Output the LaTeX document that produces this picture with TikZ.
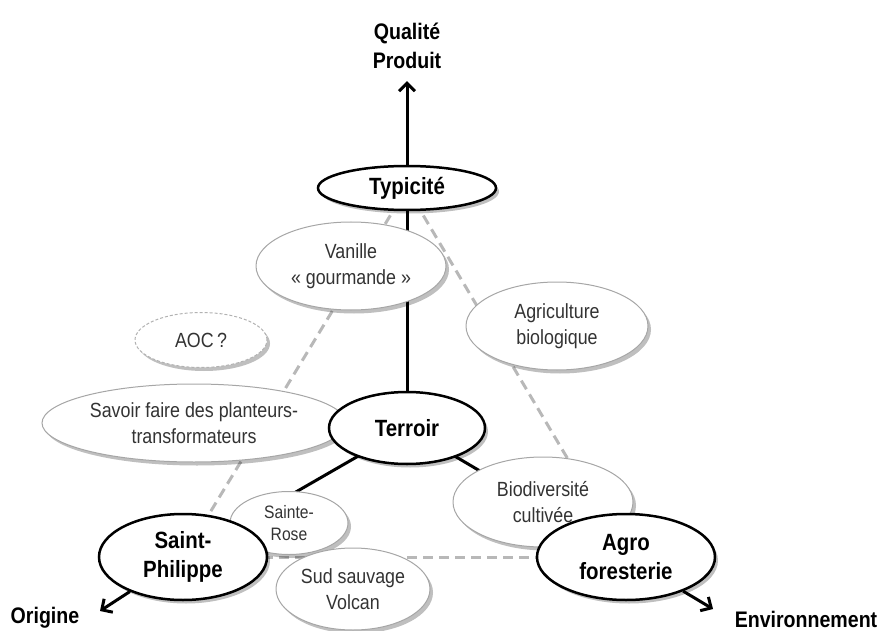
\documentclass[tikz,border=0pt]{standalone}
\usepackage{fontspec}
\setmainfont{Liberation Sans}[FakeStretch=0.87]
\usetikzlibrary{shapes.geometric,shadows,arrows.meta,backgrounds}
\begin{document}
\begin{tikzpicture}[x=1pt,y=-1pt,
  softshadow/.style={drop shadow={shadow xshift=3pt,shadow yshift=-3.5pt,opacity=0.25,fill=black}},
  keynode/.style={ellipse,draw=black,line width=2.5pt,fill=white,softshadow,inner sep=0pt,align=center,
    font=\fontsize{23.5}{29}\selectfont\bfseries},
  itemnode/.style={ellipse,draw=black!35,line width=1pt,fill=white,softshadow,inner sep=0pt,align=center,
    text=black!80,font=\fontsize{20.5}{25.5}\selectfont},
  smallitem/.style={itemnode,font=\fontsize{18}{22}\selectfont},
  axislabel/.style={inner sep=0pt,align=center,font=\fontsize{22.5}{29}\selectfont\bfseries},
  solidlink/.style={line width=3pt,black},
  dashlink/.style={line width=3pt,black!28,dash pattern=on 10pt off 6pt},
  axisarrow/.style={line width=3pt,black,-{Straight Barb[length=8pt,width=16pt]}}
]
\useasboundingbox (0,0) rectangle (886,631);

% nodes
\node[axislabel] (qual) at (407,46) {Qualité\\Produit};
\node[keynode,minimum width=178pt,minimum height=44pt] (typ) at (407,188) {Typicité};
\node[itemnode,minimum width=190pt,minimum height=88pt] (van) at (351,266) {Vanille\\«~gourmande~»};
\node[itemnode,draw=black!30,dashed,dash pattern=on 3pt off 2pt,minimum width=132pt,minimum height=55pt] (aoc) at (201,340) {AOC\,?};
\node[itemnode,minimum width=182pt,minimum height=88pt] (agri) at (557,326) {Agriculture\\biologique};
\node[itemnode,minimum width=304pt,minimum height=78pt] (savoir) at (194,423) {Savoir faire des planteurs-\\transformateurs};
\node[keynode,minimum width=156pt,minimum height=72pt] (terr) at (407,428) {Terroir};
\node[itemnode,minimum width=180pt,minimum height=90pt] (bio) at (543,502) {Biodiversité\\cultivée};
\node[smallitem,minimum width=118pt,minimum height=63pt] (rose) at (289,523) {Sainte-\\Rose};
\node[keynode,minimum width=168pt,minimum height=86pt] (sp) at (183,557) {Saint-\\Philippe};
\node[itemnode,minimum width=154pt,minimum height=82pt] (sud) at (353,589) {Sud sauvage\\Volcan};
\node[keynode,minimum width=178pt,minimum height=86pt] (agro) at (626,557) {Agro\\foresterie};
\node[axislabel] (orig) at (45,618) {Origine};
\node[axislabel] (env) at (806,619) {Environnement};
\coordinate (origtip) at (100,611);
\coordinate (envtip) at (713,609);

% connectors
\begin{pgfonlayer}{background}
  \draw[dashlink] (typ.center) -- (sp.center);
  \draw[dashlink] (typ.center) -- (agro.center);
  \draw[dashlink] (sp.center) -- (agro.center);
  \draw[solidlink] (typ.center) -- (terr.center);
  \draw[solidlink] (terr.center) -- (sp.center);
  \draw[solidlink] (terr.center) -- (agro.center);
\end{pgfonlayer}
\draw[axisarrow] (typ.north) -- ([yshift=-12pt]qual.south);
\draw[axisarrow] (sp) -- (origtip);
\draw[axisarrow] (agro) -- (envtip);
\end{tikzpicture}
\end{document}
